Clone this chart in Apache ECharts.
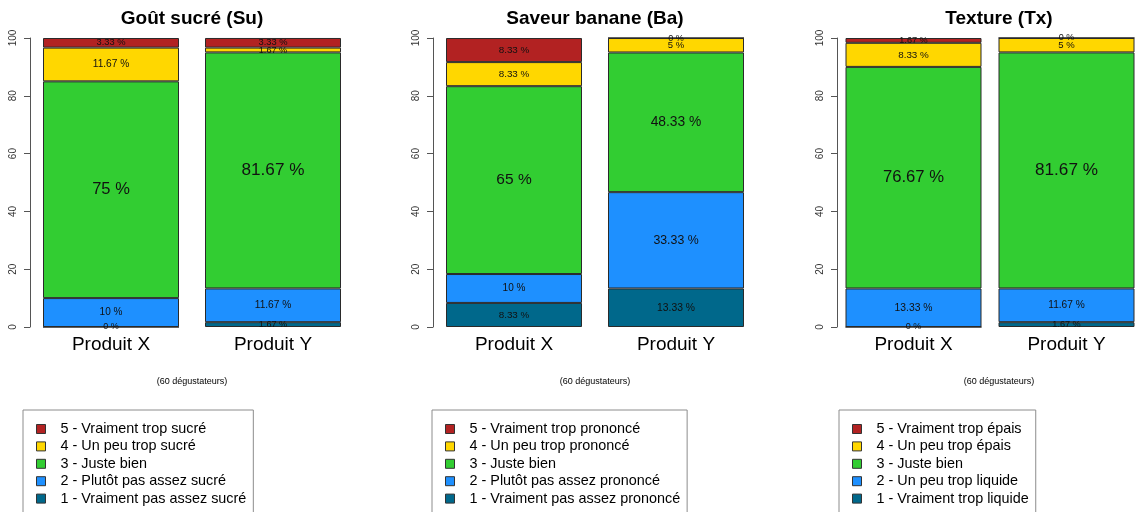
<!DOCTYPE html>
<html>
<head>
<meta charset="utf-8">
<script src="https://cdn.jsdelivr.net/npm/echarts@6/dist/echarts.min.js"></script>
<style>
  html, body { margin: 0; padding: 0; background: #fff; }
  #chart { width: 1143px; height: 512px; }
</style>
</head>
<body>
<div id="chart"></div>
<script>
// données (pourcentages, niveau 1 -> 5, [Produit X, Produit Y])
const categories = ['Produit X', 'Produit Y'];
const titles = ['Goût sucré (Su)', 'Saveur banane (Ba)', 'Texture (Tx)'];
const subtitle = '(60 dégustateurs)';

const suLevels = ['1 - Vraiment pas assez sucré', '2 - Plutôt pas assez sucré', '3 - Juste bien', '4 - Un peu trop sucré', '5 - Vraiment trop sucré'];
const baLevels = ['1 - Vraiment pas assez prononcé', '2 - Plutôt pas assez prononcé', '3 - Juste bien', '4 - Un peu trop prononcé', '5 - Vraiment trop prononcé'];
const txLevels = ['1 - Vraiment trop liquide', '2 - Un peu trop liquide', '3 - Juste bien', '4 - Un peu trop épais', '5 - Vraiment trop épais'];

const suValues = [[0, 1.67], [10, 11.67], [75, 81.67], [11.67, 1.67], [3.33, 3.33]];
const baValues = [[8.33, 13.33], [10, 33.33], [65, 48.33], [8.33, 5], [8.33, 0]];
const txValues = [[0, 1.67], [13.33, 11.67], [76.67, 81.67], [8.33, 5], [1.67, 0]];

const levelColors = ['#00688B', '#1E90FF', '#32CD32', '#FFD700', '#B22222'];

const panels = [
  { levels: suLevels, values: suValues },
  { levels: baLevels, values: baValues },
  { levels: txLevels, values: txValues }
];

const font = 'Liberation Sans, Arial, sans-serif';
const gridLeft = [30, 433, 837];
const gridWidth = 324;
const legendLeft = [23, 432, 839];

const chart = echarts.init(document.getElementById('chart'));

var grids = [], xAxes = [], yAxes = [], series = [], legends = [], titleList = [];

panels.forEach(function (p, i) {
  var center = gridLeft[i] + gridWidth / 2;
  grids.push({ left: gridLeft[i], width: gridWidth, top: 38, height: 289 });
  xAxes.push({
    type: 'category', gridIndex: i, data: categories,
    axisLine: { show: false }, axisTick: { show: false },
    axisLabel: { fontSize: 19, color: '#000', fontFamily: font, margin: 8 }
  });
  yAxes.push({
    type: 'value', gridIndex: i, min: 0, max: 100, interval: 20,
    splitLine: { show: false },
    axisLine: { show: true, lineStyle: { color: '#555' } },
    axisTick: { show: true, length: 6, lineStyle: { color: '#555' } },
    axisLabel: { rotate: 90, fontSize: 10, color: '#333', fontFamily: font, margin: 12 }
  });
  p.levels.forEach(function (name, k) {
    series.push({
      name: name, type: 'bar', stack: 'p' + i, clip: false,
      xAxisIndex: i, yAxisIndex: i, barWidth: 136,
      itemStyle: { color: levelColors[k], borderColor: '#2a2a2a', borderWidth: 1 },
      label: {
        show: true, position: 'inside', color: '#111', fontFamily: font,
        formatter: function (d) { return d.value + ' %'; }
      },
      data: p.values[k].map(function (v) {
        // taille du texte proportionnelle au pourcentage
        return { value: v, label: { fontSize: 9 + v * 0.1 } };
      })
    });
  });
  legends.push({
    orient: 'vertical', left: legendLeft[i], top: 410, height: 160,
    data: p.levels.slice().reverse(),
    icon: 'rect', itemWidth: 9, itemHeight: 9, itemGap: 3.4,
    itemStyle: { borderColor: '#333', borderWidth: 1 },
    borderColor: '#8c8c8c', borderWidth: 1,
    padding: [12, 7, 30, 13],
    selectedMode: false,
    textStyle: { fontSize: 14.4, lineHeight: 14, color: '#000', fontFamily: font, padding: [0, 0, 0, 10] }
  });
  titleList.push({
    text: titles[i], left: center, top: 9, textAlign: 'center', padding: 0,
    textStyle: { fontSize: 19, fontWeight: 'bold', color: '#000', fontFamily: font }
  });
  titleList.push({
    text: subtitle, left: center, top: 377, textAlign: 'center', padding: 0,
    textStyle: { fontSize: 9, fontWeight: 'normal', color: '#000', fontFamily: font }
  });
});

chart.setOption({
  animation: false,
  backgroundColor: '#fff',
  title: titleList,
  legend: legends,
  grid: grids,
  xAxis: xAxes,
  yAxis: yAxes,
  series: series
});
</script>
</body>
</html>
